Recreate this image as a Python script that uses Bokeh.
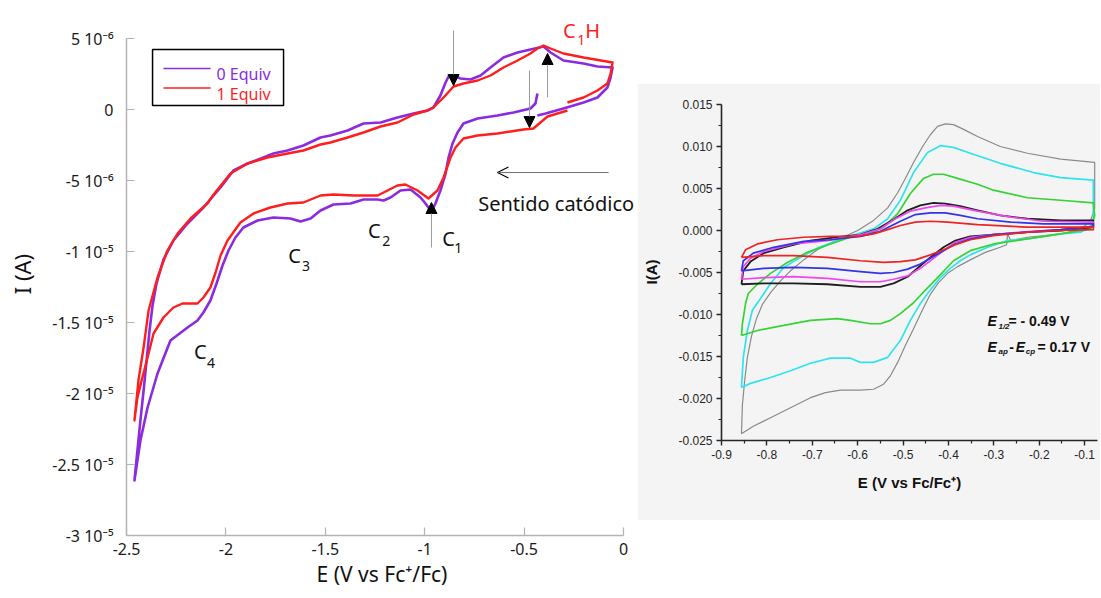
from bokeh.plotting import figure
from bokeh.models import (Range1d, FixedTicker, Label, Arrow, NormalHead, OpenHead,
                          BoxAnnotation, Spacer, PrintfTickFormatter)
from bokeh.layouts import row, column
from bokeh.embed import file_html
from bokeh.resources import INLINE

# ---------------- Left panel data (E in V, I in microampere) ----------------
purple_E = [-0.433,-0.443,-0.468,-0.553,-0.634,-0.734,-0.805,-0.835,-0.860,-0.880,
            -0.895,-0.921,-0.946,-0.966,-0.996,-1.021,-1.071,-1.122,-1.172,-1.207,
            -1.237,-1.308,-1.373,-1.459,-1.524,-1.574,-1.625,-1.675,-1.761,-1.841,
            -1.912,-1.952,-1.987,-2.017,-2.047,-2.078,-2.113,-2.143,-2.193,-2.279,
            -2.344,-2.394,-2.430,-2.460,
            -2.445,-2.430,-2.414,-2.399,-2.384,-2.369,-2.349,-2.314,-2.264,-2.193,
            -2.113,-2.062,-2.027,-1.962,-1.891,-1.811,-1.761,-1.690,-1.610,-1.524,
            -1.474,-1.388,-1.308,-1.222,-1.137,-1.056,-0.986,-0.956,-0.921,-0.895,
            -0.880,-0.855,-0.820,-0.770,-0.719,-0.669,-0.604,-0.533,-0.468,-0.402,
            -0.367,-0.302,-0.201,-0.131,-0.055,
            -0.065,-0.081,-0.131,-0.201,-0.302,-0.392,-0.433]
purple_I_uA = [1.127,0.423,0.070,-0.211,-0.423,-0.634,-0.986,-1.620,-2.394,-3.380,
               -4.507,-5.704,-6.620,-7.183,-6.620,-6.197,-5.634,-5.704,-6.197,-6.408,
               -6.338,-6.338,-6.620,-6.690,-7.113,-7.676,-7.887,-7.676,-7.606,-7.817,
               -8.310,-9.014,-9.930,-10.986,-12.254,-13.451,-14.296,-14.859,-15.352,-16.268,
               -18.592,-20.986,-23.310,-26.127,
               -24.014,-21.901,-19.789,-17.676,-15.563,-13.803,-12.254,-10.563,-9.225,-8.028,
               -6.901,-6.056,-5.493,-4.296,-3.803,-3.380,-3.099,-2.887,-2.535,-1.972,
               -1.831,-1.479,-0.986,-0.915,-0.563,-0.282,-0.070,0.141,0.986,1.901,
               2.324,2.394,2.183,2.113,2.394,2.958,3.662,4.014,4.225,4.437,
               4.014,3.451,3.239,3.028,2.958,
               2.254,1.549,0.845,0.493,0.070,-0.282,-0.423]

red_E = [-0.282,-0.201,-0.131,-0.081,-0.065,-0.055,
         -0.201,-0.302,-0.367,-0.402,-0.433,-0.468,-0.533,-0.604,-0.669,-0.734,
         -0.805,-0.855,-0.905,-0.956,-0.986,-1.056,-1.137,-1.222,-1.308,-1.388,
         -1.474,-1.524,-1.610,-1.690,-1.791,-1.891,-1.977,-2.062,-2.093,-2.178,
         -2.243,-2.294,-2.344,-2.389,-2.414,-2.440,-2.460,
         -2.445,-2.420,-2.394,-2.364,-2.314,-2.264,-2.218,-2.143,-2.113,-2.078,
         -2.052,-2.027,-1.992,-1.927,-1.861,-1.776,-1.690,-1.610,-1.524,-1.459,
         -1.358,-1.237,-1.187,-1.137,-1.097,-1.036,-0.981,-0.936,-0.905,-0.870,
         -0.845,-0.805,-0.734,-0.634,-0.568,-0.503,-0.453,-0.418,-0.382,-0.332,
         -0.282]
red_I_uA = [0.493,0.845,1.338,1.831,2.535,3.310,
            3.662,3.944,4.296,4.507,4.296,3.944,3.451,2.958,2.394,2.042,
            1.831,1.620,0.845,0.141,-0.070,-0.352,-0.915,-1.197,-1.620,-1.972,
            -2.324,-2.465,-2.887,-3.099,-3.380,-3.803,-4.507,-5.986,-6.620,-7.676,
            -8.732,-9.930,-11.831,-14.155,-16.761,-19.085,-21.901,
            -20.282,-18.873,-17.465,-15.775,-14.648,-13.944,-13.662,-13.662,-13.239,-12.535,
            -11.479,-10.282,-9.225,-7.958,-7.324,-6.901,-6.620,-6.549,-6.056,-5.986,
            -6.056,-6.056,-5.704,-5.352,-5.282,-5.704,-6.268,-5.704,-4.789,-3.380,
            -2.676,-2.042,-1.831,-1.690,-1.549,-1.408,-1.338,-0.915,-0.493,-0.282,
            -0.070]

left_x_ticks = [-2.5, -2.0, -1.5, -1.0, -0.5, 0.0]
left_x_labels = ["-2.5", "-2", "-1.5", "-1", "-0.5", "0"]
left_y_ticks_uA = [5, 0, -5, -10, -15, -20, -25, -30]
left_y_labels = ["5 10\u207b\u2076", "0", "-5 10\u207b\u2076", "-1 10\u207b\u2075",
                 "-1.5 10\u207b\u2075", "-2 10\u207b\u2075", "-2.5 10\u207b\u2075", "-3 10\u207b\u2075"]
series_names = ["0 Equiv", "1 Equiv"]

# ---------------- Right panel data (E in V, I in A) ----------------
gray_E = [-0.856,-0.854,-0.849,-0.843,-0.834,-0.823,-0.810,-0.792,-0.770,-0.748,-0.719,-0.689,
          -0.645,-0.600,-0.565,-0.534,-0.512,-0.495,-0.477,-0.457,-0.440,-0.424,-0.407,-0.389,
          -0.369,-0.336,-0.286,-0.226,-0.153,-0.078,
          -0.078,-0.078,-0.087,-0.109,-0.153,-0.226,-0.263,-0.270,-0.272,-0.286,-0.319,-0.352,
          -0.380,-0.402,-0.422,-0.440,-0.457,-0.477,-0.495,-0.512,-0.528,-0.543,-0.565,-0.594,
          -0.638,-0.671,-0.704,-0.748,-0.792,-0.830,-0.856]
gray_I = [-0.0242,-0.0208,-0.0179,-0.0151,-0.0126,-0.0105,-0.0088,-0.0074,-0.0060,-0.0048,-0.0035,-0.0023,
          -0.0011,0.0000,0.0012,0.0027,0.0045,0.0062,0.0081,0.0100,0.0114,0.0124,0.0127,0.0126,
          0.0121,0.0112,0.0100,0.0092,0.0085,0.0081,
          0.0054,0.0026,0.0012,0.0001,-0.0004,-0.0008,-0.0012,-0.0004,-0.0017,-0.0020,-0.0026,-0.0035,
          -0.0043,-0.0051,-0.0062,-0.0076,-0.0094,-0.0117,-0.0137,-0.0157,-0.0173,-0.0183,-0.0189,-0.0190,
          -0.0190,-0.0193,-0.0199,-0.0211,-0.0223,-0.0233,-0.0242]

cyan_E = [-0.856,-0.852,-0.843,-0.832,-0.814,-0.792,-0.763,-0.726,-0.689,-0.645,-0.600,-0.565,
          -0.534,-0.506,-0.477,-0.446,-0.418,-0.389,-0.352,-0.286,-0.213,-0.153,-0.081,
          -0.081,-0.081,-0.087,-0.109,-0.153,-0.226,-0.270,-0.314,-0.352,-0.374,-0.396,-0.418,
          -0.446,-0.462,-0.484,-0.506,-0.534,-0.565,-0.594,-0.616,-0.660,-0.704,-0.748,-0.792,
          -0.836,-0.856]
cyan_I = [-0.0187,-0.0151,-0.0119,-0.0095,-0.0081,-0.0063,-0.0044,-0.0032,-0.0021,-0.0012,-0.0004,0.0002,
          0.0014,0.0036,0.0069,0.0093,0.0101,0.0099,0.0092,0.0080,0.0069,0.0063,0.0060,
          0.0036,0.0012,0.0004,-0.0002,-0.0004,-0.0010,-0.0012,-0.0020,-0.0029,-0.0036,-0.0045,-0.0056,
          -0.0075,-0.0087,-0.0107,-0.0131,-0.0151,-0.0157,-0.0157,-0.0152,-0.0152,-0.0158,-0.0167,-0.0175,
          -0.0182,-0.0187]

green_E = [-0.856,-0.854,-0.847,-0.841,-0.821,-0.792,-0.755,-0.711,-0.660,-0.616,-0.578,-0.543,
           -0.512,-0.484,-0.455,-0.433,-0.411,-0.380,-0.336,-0.301,-0.226,-0.153,-0.081,
           -0.078,-0.087,-0.153,-0.226,-0.301,-0.352,-0.389,-0.424,-0.451,-0.477,-0.506,-0.528,
           -0.550,-0.572,-0.616,-0.645,-0.704,-0.763,-0.821,-0.856]
green_I = [-0.0125,-0.0111,-0.0087,-0.0075,-0.0064,-0.0051,-0.0038,-0.0026,-0.0016,-0.0008,-0.0005,0.0004,
           0.0020,0.0044,0.0062,0.0067,0.0067,0.0062,0.0055,0.0048,0.0039,0.0036,0.0033,
           0.0018,0.0002,-0.0004,-0.0010,-0.0016,-0.0024,-0.0036,-0.0056,-0.0071,-0.0086,-0.0099,-0.0107,
           -0.0111,-0.0111,-0.0107,-0.0105,-0.0107,-0.0113,-0.0119,-0.0125]

black_E = [-0.856,-0.852,-0.836,-0.807,-0.763,-0.704,-0.645,-0.594,-0.556,-0.521,-0.490,-0.462,
           -0.433,-0.407,-0.374,-0.336,-0.286,-0.226,-0.153,-0.081,
           -0.081,-0.153,-0.226,-0.301,-0.352,-0.385,-0.411,-0.440,-0.462,-0.490,-0.521,-0.550,
           -0.594,-0.667,-0.741,-0.807,-0.856]
black_I = [-0.0064,-0.0048,-0.0037,-0.0027,-0.0020,-0.0012,-0.0008,-0.0005,0.0002,0.0013,0.0024,0.0030,
           0.0033,0.0032,0.0029,0.0024,0.0018,0.0014,0.0012,0.0012,
           0.0004,0.0000,-0.0002,-0.0005,-0.0007,-0.0012,-0.0020,-0.0032,-0.0042,-0.0055,-0.0063,-0.0067,
           -0.0067,-0.0064,-0.0063,-0.0063,-0.0064]

magenta_E = [-0.856,-0.852,-0.836,-0.807,-0.741,-0.667,-0.594,-0.550,-0.517,-0.484,-0.451,-0.418,
             -0.389,-0.336,-0.263,-0.191,-0.081,
             -0.081,-0.153,-0.241,-0.301,-0.352,-0.385,-0.411,-0.440,-0.462,-0.490,-0.521,-0.550,
             -0.594,-0.667,-0.741,-0.807,-0.856]
magenta_I = [-0.0058,-0.0043,-0.0033,-0.0025,-0.0016,-0.0012,-0.0005,0.0002,0.0014,0.0023,0.0027,0.0030,
             0.0029,0.0023,0.0016,0.0011,0.0010,
             0.0005,0.0001,-0.0002,-0.0005,-0.0008,-0.0014,-0.0024,-0.0036,-0.0045,-0.0054,-0.0058,-0.0061,
             -0.0061,-0.0057,-0.0055,-0.0056,-0.0058]

blue_E = [-0.856,-0.852,-0.830,-0.785,-0.719,-0.660,-0.594,-0.550,-0.506,-0.473,-0.440,-0.407,
          -0.374,-0.336,-0.263,-0.191,-0.081,
          -0.081,-0.153,-0.226,-0.301,-0.352,-0.385,-0.411,-0.440,-0.462,-0.490,-0.521,-0.550,
          -0.594,-0.667,-0.741,-0.807,-0.856]
blue_I = [-0.0048,-0.0036,-0.0027,-0.0020,-0.0013,-0.0011,-0.0007,-0.0001,0.0011,0.0019,0.0021,0.0021,
          0.0018,0.0014,0.0010,0.0008,0.0008,
          0.0005,0.0001,-0.0002,-0.0005,-0.0010,-0.0016,-0.0024,-0.0033,-0.0040,-0.0046,-0.0050,-0.0051,
          -0.0049,-0.0045,-0.0044,-0.0045,-0.0048]

redr_E = [-0.856,-0.847,-0.821,-0.777,-0.719,-0.660,-0.600,-0.565,-0.534,-0.506,-0.473,-0.440,
          -0.402,-0.336,-0.226,-0.081,
          -0.081,-0.153,-0.226,-0.301,-0.352,-0.385,-0.411,-0.440,-0.473,-0.506,-0.543,-0.594,
          -0.667,-0.741,-0.807,-0.856]
redr_I = [-0.0032,-0.0023,-0.0016,-0.0011,-0.0008,-0.0007,-0.0007,-0.0004,0.0001,0.0006,0.0010,0.0011,
          0.0010,0.0007,0.0004,0.0004,
          0.0001,0.0000,-0.0002,-0.0006,-0.0011,-0.0017,-0.0023,-0.0029,-0.0035,-0.0037,-0.0038,-0.0036,
          -0.0032,-0.0030,-0.0030,-0.0032]

right_x_ticks = [-0.9, -0.8, -0.7, -0.6, -0.5, -0.4, -0.3, -0.2, -0.1]
right_x_minor = [-0.85, -0.75, -0.65, -0.55, -0.45, -0.35, -0.25, -0.15]
right_y_ticks = [-0.025, -0.02, -0.015, -0.01, -0.005, 0.0, 0.005, 0.01, 0.015]
right_y_minor = [-0.0225, -0.0175, -0.0125, -0.0075, -0.0025, 0.0025, 0.0075, 0.0125]

PURPLE = "#8b2be0"
RED = "#ff1e1e"
LFONT = "Noto Sans"
RFONT = "Liberation Sans"

# ============================ LEFT FIGURE ============================
p1 = figure(width=637, height=596, title=None,
            x_range=Range1d(-2.5, 0.0704), y_range=Range1d(-30, 6.831),
            output_backend="svg", toolbar_location=None,
            min_border_left=126, min_border_right=0, min_border_top=12, min_border_bottom=61)
p1.xgrid.visible = False
p1.ygrid.visible = False
p1.outline_line_color = None
p1.background_fill_color = "white"
p1.border_fill_color = "white"

p1.xaxis.ticker = FixedTicker(ticks=left_x_ticks)
p1.xaxis.major_label_overrides = dict(zip(left_x_ticks, left_x_labels))
p1.yaxis.ticker = FixedTicker(ticks=left_y_ticks_uA)
p1.yaxis.major_label_overrides = dict(zip(left_y_ticks_uA, left_y_labels))
p1.xaxis.bounds = (-2.5, 0)
p1.yaxis.bounds = (-30, 5)
for ax in (p1.xaxis[0], p1.yaxis[0]):
    ax.axis_line_color = "#b4b4b4"
    ax.axis_line_width = 1.5
    ax.major_tick_line_color = "#b4b4b4"
    ax.major_tick_line_width = 1.2
    ax.major_tick_in = 8
    ax.major_tick_out = 0
    ax.minor_tick_line_color = None
    ax.major_label_text_font = LFONT
    ax.major_label_text_font_size = "16px"
    ax.major_label_text_color = "#1a1a1a"
    ax.axis_label_text_font = LFONT
    ax.axis_label_text_font_style = "normal"
    ax.axis_label_text_color = "#111111"
p1.yaxis.major_label_standoff = 13
p1.xaxis.major_label_standoff = 7
p1.yaxis.axis_label = "I (A)"
p1.yaxis.axis_label_text_font_size = "22px"
p1.yaxis.axis_label_standoff = 12
p1.xaxis.axis_label = "E (V vs Fc\u207a/Fc)"
p1.xaxis.axis_label_text_font_size = "21px"
p1.xaxis.axis_label_standoff = 2

r_purple = p1.line(purple_E, purple_I_uA, line_color=PURPLE, line_width=2.6, line_join="round")
r_red = p1.line(red_E, red_I_uA, line_color=RED, line_width=2.4, line_join="round")

def lab(fig, x, y, text, size, color="#111111", font=LFONT, style="normal",
        align="left", baseline="alphabetic"):
    fig.add_layout(Label(x=x, y=y, text=text, text_font=font, text_font_size=size,
                         text_color=color, text_font_style=style, text_align=align,
                         text_baseline=baseline))

# peak labels
lab(p1, -0.912, -9.08, "C", "20px")
lab(p1, -0.852, -9.72, "1", "14px")
lab(p1, -1.285, -8.52, "C", "20px")
lab(p1, -1.214, -9.23, "2", "14px")
lab(p1, -1.687, -10.28, "C", "20px")
lab(p1, -1.617, -10.99, "3", "14px")
lab(p1, -2.160, -17.04, "C", "20px")
lab(p1, -2.095, -17.82, "4", "14px")
lab(p1, -0.304, 5.56, "C", "20px", color=RED)
lab(p1, -0.233, 4.86, "1", "14px", color=RED)
lab(p1, -0.193, 5.56, "H", "20px", color=RED)
lab(p1, -0.731, -6.62, "Sentido cat\u00f3dico", "20px")

# arrows
def varrow(x, y0, y1):
    p1.add_layout(Arrow(end=NormalHead(size=11, fill_color="black", line_color="black"),
                        x_start=x, y_start=y0, x_end=x, y_end=y1,
                        line_color="#9a9a9a", line_width=1))
varrow(-0.855, 5.56, 1.69)
varrow(-0.382, 0.845, 3.944)
varrow(-0.473, 2.75, -1.27)
varrow(-0.966, -9.72, -6.55)
p1.add_layout(Arrow(end=OpenHead(size=11, line_color="black", line_width=1.2),
                    x_start=-0.075, y_start=-4.44, x_end=-0.634, y_end=-4.44,
                    line_color="#707070", line_width=1))

# legend
p1.add_layout(BoxAnnotation(left=-2.369, right=-1.710, top=4.225, bottom=0.282,
                            fill_color=None, fill_alpha=0, line_color="black",
                            line_alpha=1, line_width=1.5))
p1.add_layout(Arrow(end=None, x_start=-2.314, y_start=2.887, x_end=-2.077, y_end=2.887,
                    line_color=PURPLE, line_width=1.5))
p1.add_layout(Arrow(end=None, x_start=-2.314, y_start=1.514, x_end=-2.077, y_end=1.514,
                    line_color=RED, line_width=1.5))
lab(p1, -2.047, 2.465, series_names[0], "16px", color=PURPLE)
lab(p1, -2.047, 1.106, series_names[1], "16px", color=RED)

# ============================ RIGHT FIGURE ============================
BG = "#f4f4f4"
p2 = figure(width=463, height=437, title=None,
            x_range=Range1d(-0.9, -0.0718), y_range=Range1d(-0.025, 0.01512),
            output_backend="svg", toolbar_location=None,
            min_border_left=84, min_border_right=3, min_border_top=20, min_border_bottom=80,
            background_fill_color=BG, border_fill_color=BG)
p2.xgrid.visible = False
p2.ygrid.visible = False
p2.outline_line_color = None
p2.xaxis.ticker = FixedTicker(ticks=right_x_ticks, minor_ticks=right_x_minor)
p2.xaxis.formatter = PrintfTickFormatter(format="%.1f")
p2.yaxis.ticker = FixedTicker(ticks=right_y_ticks, minor_ticks=right_y_minor)
p2.yaxis.formatter = PrintfTickFormatter(format="%.3f")
p2.yaxis.bounds = (-0.025, 0.015)
for ax in (p2.xaxis[0], p2.yaxis[0]):
    ax.axis_line_color = "#262626"
    ax.axis_line_width = 1.6
    ax.major_tick_line_color = "#262626"
    ax.major_tick_line_width = 1.4
    ax.major_tick_in = 0
    ax.major_tick_out = 5
    ax.minor_tick_line_color = "#262626"
    ax.minor_tick_line_width = 1.2
    ax.minor_tick_in = 0
    ax.minor_tick_out = 3
    ax.major_label_text_font = RFONT
    ax.major_label_text_font_size = "12px"
    ax.major_label_text_color = "#262626"
    ax.major_label_standoff = 4
    ax.axis_label_text_font = RFONT
    ax.axis_label_text_font_size = "15px"
    ax.axis_label_text_font_style = "bold"
    ax.axis_label_text_color = "#111111"
p2.xaxis.axis_label = "E (V vs Fc/Fc\u207a)"
p2.xaxis.axis_label_standoff = 12
p2.yaxis.axis_label = "I(A)"
p2.yaxis.axis_label_standoff = 15

curves = [(gray_E, gray_I, "#8a8a8a", 1.2), (cyan_E, cyan_I, "#2fe4ee", 1.7),
          (green_E, green_I, "#34d434", 1.7), (black_E, black_I, "#1e1e1e", 1.8),
          (magenta_E, magenta_I, "#f046f0", 1.7), (blue_E, blue_I, "#3434e6", 1.7),
          (redr_E, redr_I, "#ec2424", 1.7)]
for ex, iy, col, w in curves:
    p2.line(ex, iy, line_color=col, line_width=w, line_join="round")

lab(p2, -0.314, -0.01083, "E", "14px", font=RFONT, style="bold italic")
lab(p2, -0.290, -0.01143, "1/2", "8px", font=RFONT, style="bold italic")
lab(p2, -0.268, -0.01083, "= - 0.49 V", "14px", font=RFONT, style="bold")
lab(p2, -0.314, -0.01381, "E", "14px", font=RFONT, style="bold italic")
lab(p2, -0.290, -0.0144, "ap", "8px", font=RFONT, style="bold italic")
lab(p2, -0.266, -0.01381, "-", "14px", font=RFONT, style="bold")
lab(p2, -0.252, -0.01381, "E", "14px", font=RFONT, style="bold italic")
lab(p2, -0.230, -0.0144, "cp", "8px", font=RFONT, style="bold italic")
lab(p2, -0.204, -0.01381, "= 0.17 V", "14px", font=RFONT, style="bold")

layout = row(p1, column(Spacer(width=463, height=83), p2))
with open("out.html", "w", encoding="utf-8") as f:
    f.write(file_html(layout, INLINE))
